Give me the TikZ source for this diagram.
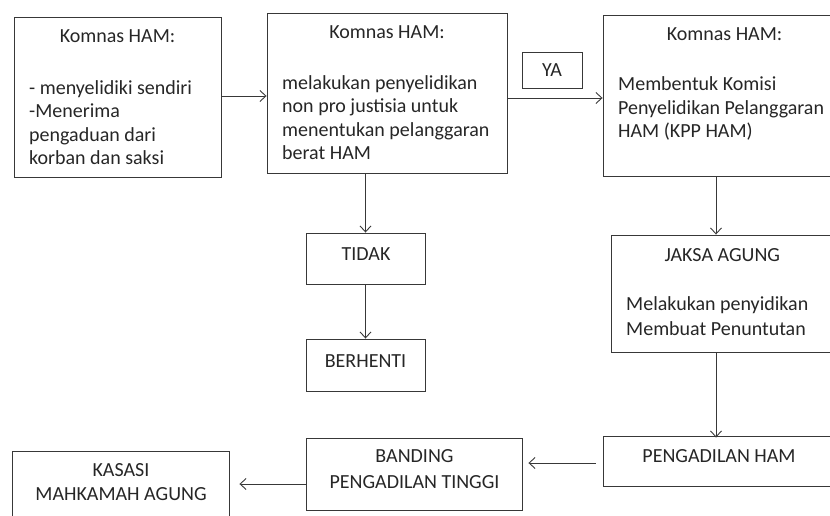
\documentclass[tikz,border=0pt]{standalone}
\usepackage{fontspec}
\setmainfont{Carlito}
\usetikzlibrary{arrows.meta,calc}
\begin{document}
\begin{tikzpicture}[x=1pt,y=-1pt,
  box/.style={draw=black!78,line width=0.9pt,rectangle,inner sep=0pt,anchor=center},
  txt/.style={inner sep=0pt,text=black!85,font=\fontsize{20}{23.5}\selectfont},
  body/.style={txt,anchor=north west,align=left},
  arr/.style={draw=black!78,line width=0.9pt,-{Straight Barb[length=6pt,width=11pt]}}]
\useasboundingbox (0,0) rectangle (830,516);
% boxes
\node[box,minimum width=207pt,minimum height=160pt] (b1) at (117.5,97) {};
\node[box,minimum width=240pt,minimum height=160pt] (b2) at (387,93) {};
\node[box,minimum width=60pt,minimum height=36pt] (ya) at (552,70) {};
\node[box,minimum width=229pt,minimum height=161pt] (b3) at (717.5,95.5) {};
\node[box,minimum width=119pt,minimum height=51pt] (tidak) at (365.5,258.5) {};
\node[box,minimum width=119pt,minimum height=52pt] (stop) at (365.5,365) {};
\node[box,minimum width=221pt,minimum height=117pt] (jaksa) at (721.5,293.5) {};
\node[box,minimum width=229pt,minimum height=50pt] (peng) at (717.5,461) {};
\node[box,minimum width=216pt,minimum height=72pt] (band) at (414,474) {};
\node[box,minimum width=217pt,minimum height=69pt] (kas) at (120.5,485.5) {};
% texts
\node[txt,anchor=base] (t1) at (117.5,43) {Komnas HAM:};
\node[body] (t1b) at (29,77.5) {\strut- menyelidiki sendiri\\-Menerima\\pengaduan dari\\korban dan saksi};
\node[txt,anchor=base] (t2) at (387,38.5) {Komnas HAM:};
\node[body] (t2b) at (282,72.5) {\strut melakukan penyelidikan\\non pro justisia untuk\\menentukan pelanggaran\\berat HAM};
\node[txt,anchor=base] (tya) at (552,76.5) {YA};
\node[txt,anchor=base] (t3) at (724.5,40.5) {Komnas HAM:};
\node[body] (t3b) at (618,74) {\strut Membentuk Komisi\\Penyelidikan Pelanggaran\\HAM (KPP HAM)};
\node[txt,anchor=base] (ttidak) at (366,260.5) {TIDAK};
\node[txt,anchor=base] (tstop) at (365.5,367.3) {BERHENTI};
\node[txt,anchor=base] (tjaksa) at (722.3,261.7) {JAKSA AGUNG};
\node[body] (tjaksab) at (626,293.5) {\strut Melakukan penyidikan\\[2pt]Membuat Penuntutan};
\node[txt,anchor=base] (tpeng) at (719,462.7) {PENGADILAN HAM};
\node[txt,anchor=north,align=center] (tband) at (414.5,446) {\strut BANDING\\[2pt]PENGADILAN TINGGI};
\node[txt,anchor=north,align=center] (tkas) at (121,460) {\strut KASASI\\MAHKAMAH AGUNG};
% connectors
\draw[arr] ([yshift=1pt]b1.east) -- ([yshift=1pt]b1.east -| b2.west);
\draw[arr] ([yshift=-5pt]b2.east) -- ([yshift=-5pt]b2.east -| b3.west);
\draw[arr] (tidak.north |- b2.south) -- (tidak.north);
\draw[arr] (tidak.south) -- (stop.north);
\draw[arr] ([xshift=-1.5pt]b3.south) -- ([xshift=-1.5pt]b3.south |- jaksa.north);
\draw[arr] ([xshift=-1.5pt]b3.south |- jaksa.south) -- ([xshift=-1.5pt,yshift=-2pt]b3.south |- peng.north);
\draw[arr] ($(peng.west)+(-7,2)$) -- ($(peng.west -| band.east)+(6,2)$);
\draw[arr] ($(band.west)+(0,10)$) -- ($(band.west -| kas.east)+(10,10)$);
\end{tikzpicture}
\end{document}
